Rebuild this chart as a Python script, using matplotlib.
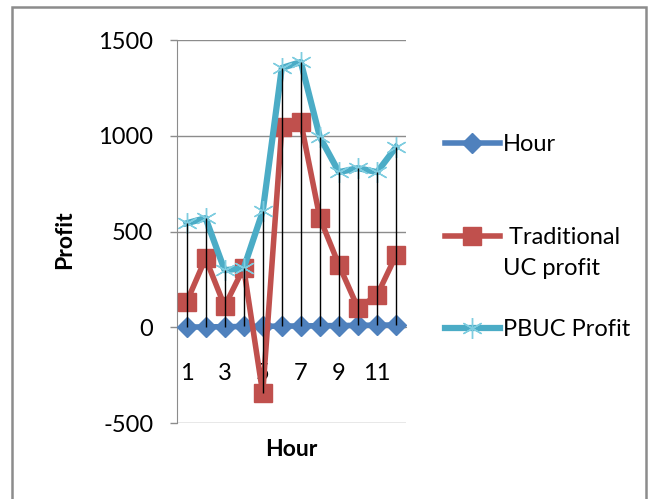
import matplotlib.pyplot as plt
import matplotlib.patches as patches
from matplotlib.lines import Line2D
import numpy as np

# 数据
hours = np.arange(1, 13)
hour_series = [1, 2, 3, 4, 5, 6, 7, 8, 9, 10, 11, 12]
trad_uc = [130, 360, 110, 310, -345, 1045, 1070, 570, 325, 100, 167, 376]
pbuc = [543, 570, 298, 308, 605, 1354, 1385, 993, 810, 831, 810, 941]
x_labels = ['1', '', '3', '', '5', '', '7', '', '9', '', '11', '']

plt.rcParams['font.family'] = ['Lato', 'DejaVu Sans']
plt.rcParams['axes.unicode_minus'] = False

fig = plt.figure(figsize=(6.57, 4.99), dpi=100)
ax = fig.add_axes([0.2694, 0.1523, 0.348, 0.7675])

# 外框
fig.patches.append(patches.Rectangle((12 / 657, -0.05), 634 / 657, 1 - 7 / 499 + 0.05,
                                     transform=fig.transFigure, fill=False,
                                     edgecolor='#8c8c8c', linewidth=1.8))

# high-low lines
all_vals = np.array([hour_series, trad_uc, pbuc])
ax.vlines(hours, all_vals.min(axis=0), all_vals.max(axis=0),
          color='black', linewidth=1.0, zorder=6)

styles = [
    dict(color='#4F81BD', linewidth=4, marker='D', markersize=10, zorder=3),
    dict(color='#C0504D', linewidth=4, marker='s', markersize=13, zorder=4),
    dict(color='#4BACC6', linewidth=4.5, marker=(6, 2, 0), markersize=15,
         markeredgewidth=1, markeredgecolor='#7fcde0', zorder=5),
]
ax.plot(hours, hour_series, **styles[0])
ax.plot(hours, trad_uc, **styles[1])
ax.plot(hours, pbuc, **styles[2])

ax.set_xlim(0.5, 12.5)
ax.set_ylim(-500, 1500)
ax.set_yticks([-500, 0, 500, 1000, 1500])
ax.grid(axis='y', color='#8c8c8c', linewidth=1)
ax.set_axisbelow(True)

ax.spines['top'].set_visible(False)
ax.spines['right'].set_visible(False)
ax.spines['left'].set_color('#8c8c8c')
ax.spines['bottom'].set_position(('data', 0))
ax.spines['bottom'].set_color('#8c8c8c')

ax.set_xticks(hours)
ax.set_xticklabels(x_labels)
ax.tick_params(axis='x', length=0, pad=26, labelsize=17)
ax.tick_params(axis='y', length=5, color='#8c8c8c', width=1, labelsize=17, pad=12)

fig.text(65 / 657, 1 - 240 / 499, 'Profit', rotation=90, ha='center', va='center',
         fontsize=16.5, fontweight='bold')
fig.text(291 / 657, 1 - 449 / 499, 'Hour', ha='center', va='center',
         fontsize=16.5, fontweight='bold')

# 图例（手动放置）
legend_items = [('Hour', 143), (' Traditional\nUC profit', 236), ('PBUC Profit', 328)]
for (label, ypx), st in zip(legend_items, styles):
    y = 1 - ypx / 499
    fig.add_artist(Line2D([445 / 657, 500 / 657], [y, y], transform=fig.transFigure,
                          color=st['color'], linewidth=st['linewidth']))
    fig.add_artist(Line2D([472 / 657], [y], transform=fig.transFigure,
                          color=st['color'], marker=st['marker'],
                          markersize=st['markersize'],
                          markeredgewidth=st.get('markeredgewidth', 1),
                          markeredgecolor=st.get('markeredgecolor', st['color'])))
    fig.text(503 / 657, y + 0.018, label, ha='left', va='top', fontsize=17,
             linespacing=1.6)

fig.savefig('out.png', dpi=100)
